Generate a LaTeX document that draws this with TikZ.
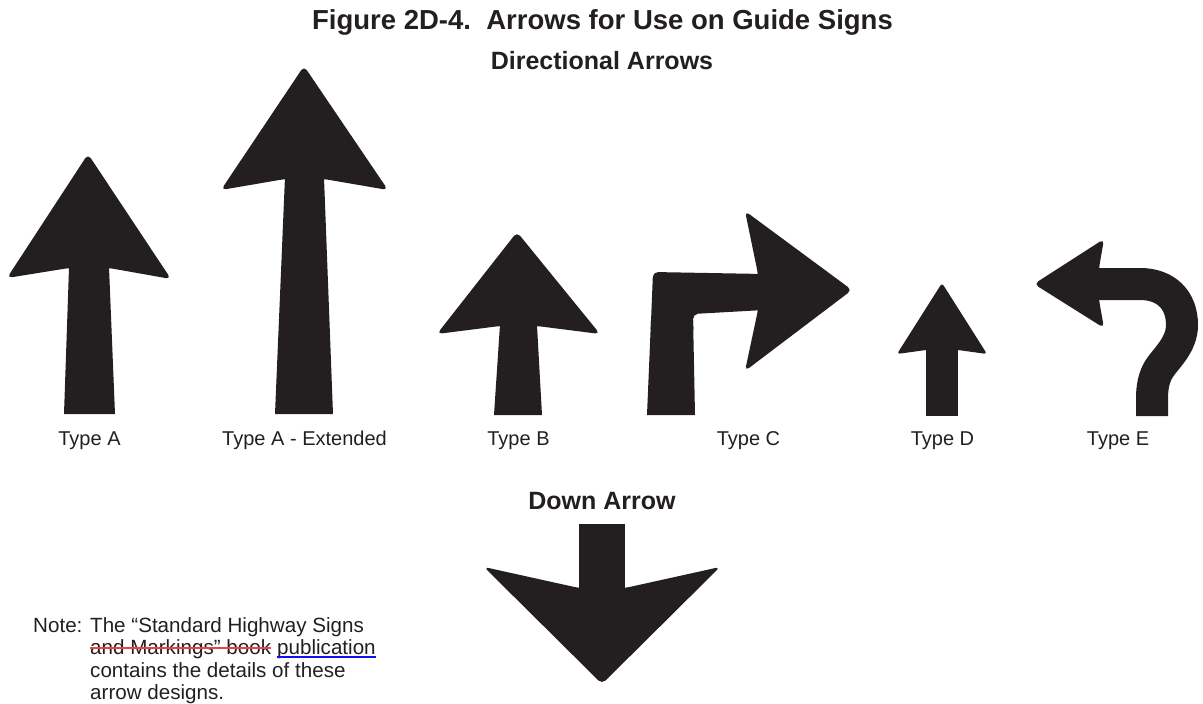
\documentclass[tikz,border=0pt]{standalone}
\usepackage{fontspec}
\setmainfont{Liberation Sans}
\definecolor{ink}{HTML}{231F20}
\definecolor{strikered}{HTML}{E8424F}
\definecolor{ulblue}{HTML}{1010F0}
\begin{document}
\begin{tikzpicture}[x=1pt,y=-1pt,
  headfill/.style={fill=ink, rounded corners=5pt},
  shaftfill/.style={fill=ink},
  titletext/.style={font=\bfseries\fontsize{27.5}{30}\selectfont, text=ink, inner sep=0pt, anchor=base},
  subtext/.style={font=\bfseries\fontsize{25}{28}\selectfont, text=ink, inner sep=0pt, anchor=base},
  labeltext/.style={font=\fontsize{20}{23}\selectfont, text=ink, inner sep=0pt, anchor=base},
  notetext/.style={font=\fontsize{20.6}{23}\selectfont, text=ink, inner sep=0pt, anchor=base west}
]
\useasboundingbox (0,0) rectangle (1203,704);

% titles
\node[titletext] (title) at (602.5,30) {Figure 2D-4.\ \ Arrows for Use on Guide Signs};
\node[subtext] (dirarrows) at (602,69) {Directional Arrows};
\node[subtext] (downtitle) at (602,509) {Down Arrow};

% Type A
\fill[headfill] (7,278) -- (88,154) -- (171,279) -- (109,268) -- (69,268) -- cycle;
\fill[shaftfill] (69.2,262) -- (108.8,262) -- (115,414) -- (64,414) -- cycle;
\node[labeltext] (labA) at (89.5,445) {Type A};

% Type A - Extended
\fill[headfill] (221,190) -- (304,66) -- (388,190) -- (324,179) -- (285,179) -- cycle;
\fill[shaftfill] (285.2,172) -- (323.8,172) -- (333,414) -- (275,414) -- cycle;
\node[labeltext] (labAE) at (304.5,445) {Type A - Extended};

% Type B
\fill[headfill] (437,334) -- (517,232) -- (600,334) -- (537,326) -- (500,326) -- cycle;
\fill[shaftfill] (500.3,320) -- (536.7,320) -- (542,415) -- (494,415) -- cycle;
\node[labeltext] (labB) at (518.5,445) {Type B};

% Type C
\fill[shaftfill] (651,320) -- (693.1,320) -- (695,415) -- (647,415) -- cycle;
\fill[headfill] (650.5,334) -- (653,272) -- (764,274) -- (764,310) -- (693,314) -- (693.4,334) -- cycle;
\fill[headfill] (745,211) -- (852,290) -- (745,371) -- (758,310) -- (758,274) -- cycle;
\node[labeltext] (labC) at (748.5,445) {Type C};

% Type D
\fill[ink, rounded corners=3pt] (897,354) -- (942,283) -- (987,354) -- (958,350) -- (926,350) -- cycle;
\fill[shaftfill] (926,345) -- (958,345) -- (958,416) -- (926,416) -- cycle;
\node[labeltext] (labD) at (942.5,445) {Type D};

% Type E
\draw[ink, line width=32pt, line cap=butt]
  (1095,284) -- (1140,284) .. controls (1166,284) and (1182,300) .. (1182,325)
  .. controls (1182,345) and (1166,358) .. (1159,369)
  .. controls (1154,377) and (1152,387) .. (1152,398) -- (1152,416);
\fill[headfill] (1034,284) -- (1104,239) -- (1099,268) -- (1099,300) -- (1104,328) -- cycle;
\node[labeltext] (labE) at (1118,445) {Type E};

% Down arrow
\fill[shaftfill] (579,524) -- (625,524) -- (625,596) -- (579,596) -- cycle;
\fill[ink, rounded corners=5pt] (579,588) -- (484,567) -- (602,684) -- (720,567) -- (625,588) -- cycle;

% Note
\node[notetext] (notehead) at (33,632) {Note:};
\node[notetext] (note1) at (90,632) {The “Standard Highway Signs};
\node[notetext] (note2a) at (90,654.5) {and Markings” book};
\node[notetext, anchor=base west] (note2b) at ([xshift=5.7pt]note2a.base east) {publication};
\node[notetext] (note3) at (90,677) {contains the details of these};
\node[notetext] (note4) at (90,699.5) {arrow designs.};
\draw[strikered, line width=1.6pt] ([yshift=6.5pt]note2a.base west) -- ([yshift=6.5pt]note2a.base east);
\draw[ulblue, line width=1.6pt] ([yshift=-2.5pt]note2b.base west) -- ([yshift=-2.5pt]note2b.base east);
\end{tikzpicture}
\end{document}
